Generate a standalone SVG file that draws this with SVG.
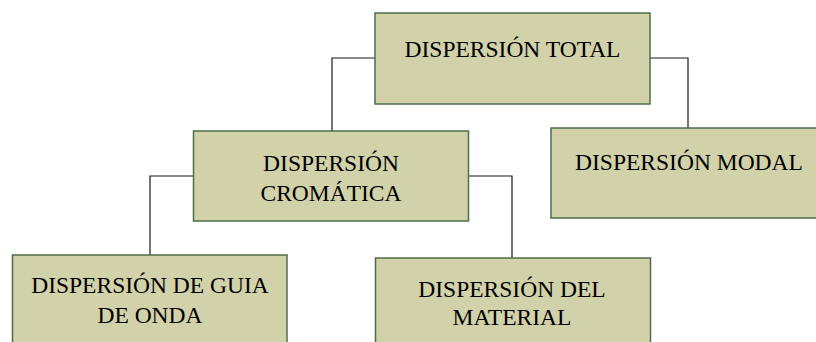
<svg xmlns="http://www.w3.org/2000/svg" width="816" height="342" viewBox="0 0 816 342">
<style>
.box{fill:#d2d2aa;stroke:#4d6d48;stroke-width:1.5}
.lbl{font-family:"Liberation Serif","Times New Roman",serif;font-size:23.5px;fill:#000;text-anchor:middle}
.con{fill:none;stroke:#1a1a1a;stroke-width:1.2}
</style>
<rect width="816" height="342" fill="#fff"/>
<g id="connectors">
<path class="con" d="M375,58 H332 V131"/>
<path class="con" d="M650,58 H688 V128"/>
<path class="con" d="M193.5,176 H150 V255"/>
<path class="con" d="M468.5,176 H512 V258"/>
</g>
<g id="total">
<rect class="box" x="375" y="13" width="275" height="91"/>
<text class="lbl" x="512.5" y="57">DISPERSIÓN TOTAL</text>
</g>
<g id="cromatica">
<rect class="box" x="193.5" y="131" width="275" height="90"/>
<text class="lbl" x="331" y="171">DISPERSIÓN</text>
<text class="lbl" x="331" y="201">CROMÁTICA</text>
</g>
<g id="modal">
<rect class="box" x="551" y="128" width="275" height="90"/>
<text class="lbl" x="689" y="170">DISPERSIÓN MODAL</text>
</g>
<g id="guia">
<rect class="box" x="12.5" y="255" width="274.5" height="95"/>
<text class="lbl" x="150" y="293">DISPERSIÓN DE GUIA</text>
<text class="lbl" x="150" y="323">DE ONDA</text>
</g>
<g id="material">
<rect class="box" x="375.5" y="258" width="275" height="95"/>
<text class="lbl" x="512" y="297">DISPERSIÓN DEL</text>
<text class="lbl" x="512" y="325">MATERIAL</text>
</g>
</svg>
